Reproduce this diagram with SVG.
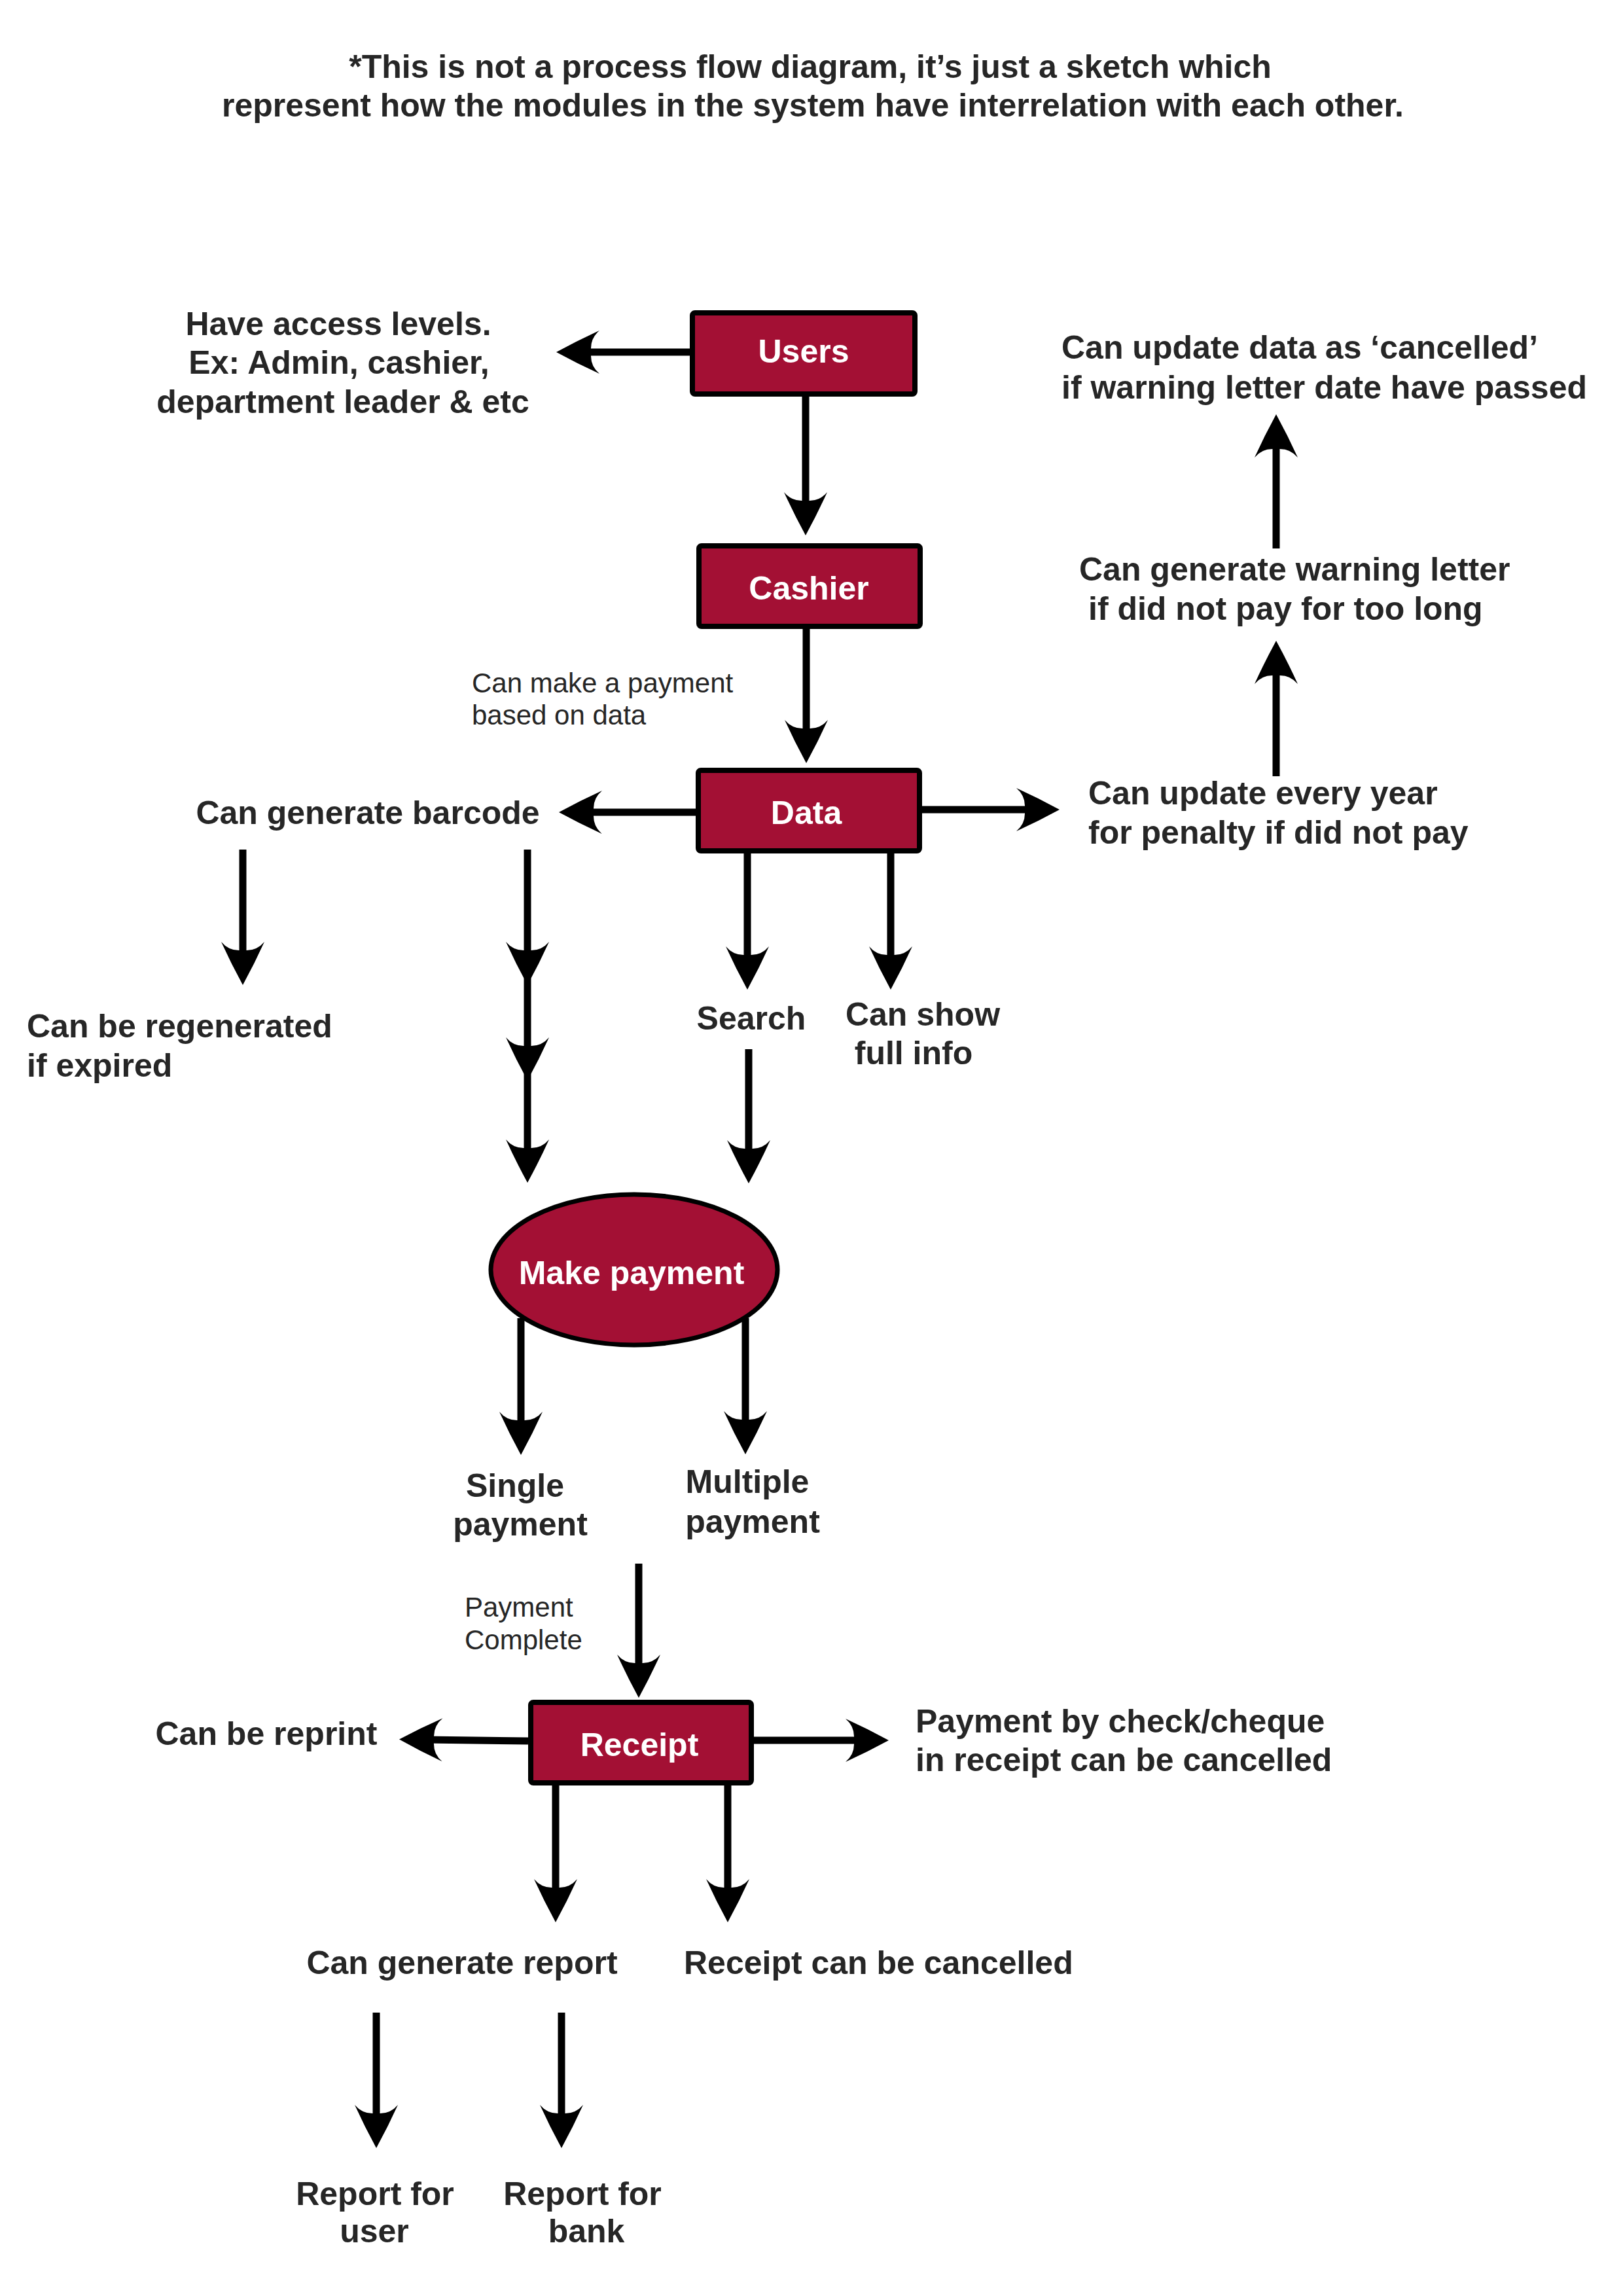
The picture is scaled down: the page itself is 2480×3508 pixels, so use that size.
<svg xmlns="http://www.w3.org/2000/svg" width="2480" height="3508" viewBox="0 0 2480 3508">
<defs>
<style>
.t{font-family:"Liberation Sans",Arial,sans-serif;font-weight:bold;font-size:50px;fill:#262626}
.r{font-family:"Liberation Sans",Arial,sans-serif;font-weight:normal;font-size:42px;fill:#262626}
.w{font-family:"Liberation Sans",Arial,sans-serif;font-weight:bold;font-size:50px;fill:#ffffff;text-anchor:middle}
.m{text-anchor:middle}
.box{fill:#A31034;stroke:#000;stroke-width:8}
.c{fill:none;stroke:#000;stroke-width:11;marker-end:url(#ah)}
</style>
<marker id="ah" markerUnits="userSpaceOnUse" viewBox="-30 -36 74 72" refX="0" refY="0" markerWidth="74" markerHeight="72" orient="auto" overflow="visible">
<path d="M40,0 Q7,-18 -26,-33 Q-13,-22 -13,-6 L-13,6 Q-13,22 -26,33 Q7,18 40,0 Z" fill="#000"/>
</marker>
</defs>
<rect x="0" y="0" width="2480" height="3508" fill="#ffffff"/>

<g id="title">
<text class="t m" x="1238" y="119">*This is not a process flow diagram, it’s just a sketch which</text>
<text class="t m" x="1242" y="178">represent how the modules in the system have interrelation with each other.</text>
</g>

<g id="connectors">
<path class="c" d="M1054,538 L890,538"/>
<path class="c" d="M1231,606 L1231,778"/>
<path class="c" d="M1232,961 L1232,1126"/>
<path class="c" d="M1063,1241 L894,1241"/>
<path class="c" d="M1409,1237 L1579,1237"/>
<path class="c" d="M1950,1186 L1950,1019"/>
<path class="c" d="M1950,838 L1950,673"/>
<path class="c" d="M1142,1304 L1142,1472"/>
<path class="c" d="M1361,1304 L1361,1472"/>
<path class="c" d="M1144,1603 L1144,1768"/>
<path class="c" d="M371,1298 L371,1465"/>
<path class="c" d="M806,1298 L806,1465"/>
<path class="c" d="M806,1465 L806,1611"/>
<path class="c" d="M806,1611 L806,1767"/>
<path class="c" d="M796,2014 L796,2183"/>
<path class="c" d="M1139,2014 L1139,2182"/>
<path class="c" d="M976,2389 L976,2554"/>
<path class="c" d="M807,2660 L650,2658"/>
<path class="c" d="M1152,2659 L1318,2659"/>
<path class="c" d="M849,2728 L849,2897"/>
<path class="c" d="M1112,2728 L1112,2897"/>
<path class="c" d="M575,3075 L575,3242"/>
<path class="c" d="M858,3075 L858,3242"/>
</g>

<g id="users">
<rect class="box" x="1058" y="478" width="340" height="124" rx="4"/>
<text class="w" x="1228" y="554">Users</text>
</g>
<g id="access-levels">
<text class="t m" x="517" y="512">Have access levels.</text>
<text class="t m" x="518" y="571">Ex: Admin, cashier,</text>
<text class="t m" x="524" y="631">department leader &amp; etc</text>
</g>
<g id="cashier">
<rect class="box" x="1068" y="834" width="338" height="123" rx="4"/>
<text class="w" x="1236" y="916">Cashier</text>
</g>
<g id="make-payment-note">
<text class="r" x="721" y="1058">Can make a payment</text>
<text class="r" x="721" y="1107">based on data</text>
</g>
<g id="data">
<rect class="box" x="1067" y="1177" width="338" height="123" rx="4"/>
<text class="w" x="1232" y="1259">Data</text>
</g>
<g id="barcode">
<text class="t m" x="562" y="1259">Can generate barcode</text>
</g>
<g id="penalty">
<text class="t" x="1663" y="1229">Can update every year</text>
<text class="t" x="1663" y="1289">for penalty if did not pay</text>
</g>
<g id="warning-letter">
<text class="t" x="1649" y="887">Can generate warning letter</text>
<text class="t" x="1663" y="947">if did not pay for too long</text>
</g>
<g id="cancelled">
<text class="t" x="1622" y="548">Can update data as ‘cancelled’</text>
<text class="t" x="1622" y="609">if warning letter date have passed</text>
</g>
<g id="search">
<text class="t m" x="1148" y="1573">Search</text>
</g>
<g id="full-info">
<text class="t m" x="1410" y="1567">Can show</text>
<text class="t m" x="1396" y="1626">full info</text>
</g>
<g id="regenerated">
<text class="t" x="41" y="1585">Can be regenerated</text>
<text class="t" x="41" y="1645">if expired</text>
</g>
<g id="make-payment">
<ellipse cx="969" cy="1940" rx="219" ry="115" fill="#A31034" stroke="#000" stroke-width="7"/>
<text class="w" x="965" y="1962">Make payment</text>
</g>
<g id="single-payment">
<text class="t m" x="787" y="2287">Single</text>
<text class="t m" x="795" y="2346">payment</text>
</g>
<g id="multiple-payment">
<text class="t m" x="1142" y="2281">Multiple</text>
<text class="t m" x="1150" y="2342">payment</text>
</g>
<g id="payment-complete">
<text class="r" x="710" y="2470">Payment</text>
<text class="r" x="710" y="2520">Complete</text>
</g>
<g id="receipt">
<rect class="box" x="811" y="2601" width="337" height="123" rx="4"/>
<text class="w" x="977" y="2683">Receipt</text>
</g>
<g id="reprint">
<text class="t m" x="407" y="2666">Can be reprint</text>
</g>
<g id="cheque">
<text class="t" x="1399" y="2647">Payment by check/cheque</text>
<text class="t" x="1399" y="2706">in receipt can be cancelled</text>
</g>
<g id="report">
<text class="t m" x="706" y="3016">Can generate report</text>
</g>
<g id="receipt-cancelled">
<text class="t" x="1045" y="3016">Receipt can be cancelled</text>
</g>
<g id="report-user">
<text class="t m" x="573" y="3369">Report for</text>
<text class="t m" x="572" y="3426">user</text>
</g>
<g id="report-bank">
<text class="t m" x="890" y="3369">Report for</text>
<text class="t m" x="896" y="3426">bank</text>
</g>
</svg>
